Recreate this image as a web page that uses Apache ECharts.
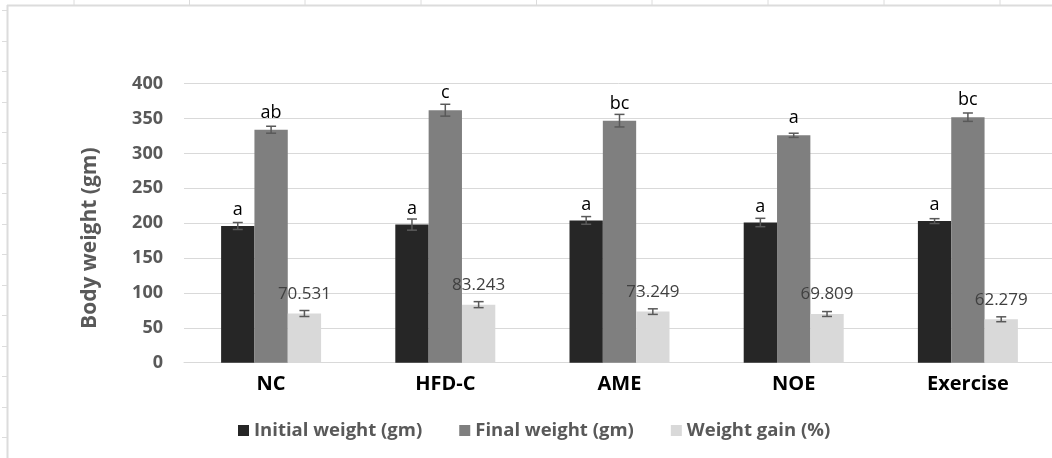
<!DOCTYPE html>
<html>
<head>
<meta charset="utf-8">
<script src="https://cdn.jsdelivr.net/npm/echarts@6.0.0/dist/echarts.min.js"></script>
<style>
html,body{margin:0;padding:0;background:#fff;}
#chart{width:1052px;height:458px;}
</style>
</head>
<body>
<div id="chart"></div>
<script>
var categories = ['NC', 'HFD-C', 'AME', 'NOE', 'Exercise'];
var seriesNames = ['Initial weight (gm)', 'Final weight (gm)', 'Weight gain (%)'];
var initialWeight = [196, 198, 204, 201, 203];
var finalWeight = [334, 362, 347, 326, 352];
var weightGain = [70.531, 83.243, 73.249, 69.809, 62.279];
var initialErr = [5, 8, 5.5, 6, 3.5];
var finalErr = [5, 8.5, 9, 3, 6];
var gainErr = [4.3, 4.3, 4, 3.5, 3.5];
var initialLetters = ['a', 'a', 'a', 'a', 'a'];
var finalLetters = ['ab', 'c', 'bc', 'a', 'bc'];
var yTicks = [0, 50, 100, 150, 200, 250, 300, 350, 400];

var FONT = '"Open Sans", "Noto Sans", sans-serif';
var colors = ['#262626', '#7f7f7f', '#d9d9d9'];
var catGap = 0.426;

function errData(vals, errs) {
  return vals.map(function (v, i) { return [i, v - errs[i], v + errs[i]]; });
}
function errSeries(pos, vals, errs) {
  return {
    type: 'custom',
    silent: true,
    z: 5,
    data: errData(vals, errs),
    renderItem: function (params, api) {
      var x = api.value(0);
      var lo = api.coord([x, api.value(1)]);
      var hi = api.coord([x, api.value(2)]);
      var band = api.size([1, 0])[0];
      var barW = band * (1 - catGap) / 3;
      var cx = lo[0] + (pos - 1) * barW;
      var hw = 5;
      var st = { stroke: '#595959', lineWidth: 1.5 };
      return {
        type: 'group',
        children: [
          { type: 'line', shape: { x1: cx, y1: lo[1], x2: cx, y2: hi[1] }, style: st },
          { type: 'line', shape: { x1: cx - hw, y1: lo[1], x2: cx + hw, y2: lo[1] }, style: st },
          { type: 'line', shape: { x1: cx - hw, y1: hi[1], x2: cx + hw, y2: hi[1] }, style: st }
        ]
      };
    }
  };
}

// spreadsheet-frame decoration
var deco = [];
deco.push({ type: 'line', shape: { x1: 7, y1: 5.5, x2: 1052, y2: 5.5 }, style: { stroke: '#dcdcdc', lineWidth: 2 }, silent: true });
deco.push({ type: 'line', shape: { x1: 7.5, y1: 5, x2: 7.5, y2: 458 }, style: { stroke: '#dcdcdc', lineWidth: 2 }, silent: true });
[74, 189.5, 305, 421, 536.5, 652, 768, 884, 1000].forEach(function (x) {
  deco.push({ type: 'line', shape: { x1: x, y1: 0, x2: x, y2: 5 }, style: { stroke: '#dcdcdc', lineWidth: 1 }, silent: true });
});
for (var yy = 10; yy < 458; yy += 30.5) {
  deco.push({ type: 'line', shape: { x1: 2, y1: Math.round(yy) + 0.5, x2: 7, y2: Math.round(yy) + 0.5 }, style: { stroke: '#dcdcdc', lineWidth: 1 }, silent: true });
}

var chart = echarts.init(document.getElementById('chart'), null, { renderer: 'canvas' });
chart.setOption({
  animation: false,
  backgroundColor: '#ffffff',
  textStyle: { fontFamily: FONT },
  graphic: deco,
  grid: { left: 184, right: -3, top: 83.7, bottom: 95.3, outerBoundsMode: 'none', containLabel: false },
  legend: {
    left: 233, top: 416,
    itemWidth: 11, itemHeight: 11, itemGap: 37,
    icon: 'rect',
    data: seriesNames,
    textStyle: { color: '#595959', fontSize: 18.5, fontWeight: 'bold', fontFamily: FONT }
  },
  xAxis: {
    type: 'category',
    data: categories,
    axisLine: { show: true, lineStyle: { color: '#d9d9d9', width: 1 } },
    axisTick: { show: false },
    axisLabel: { color: '#000000', fontSize: 20, fontWeight: 'bold', fontFamily: FONT, margin: 12 }
  },
  yAxis: {
    type: 'value',
    min: yTicks[0], max: yTicks[yTicks.length - 1], interval: 50,
    name: 'Body weight (gm)',
    nameLocation: 'middle',
    nameGap: 83,
    nameTextStyle: { color: '#595959', fontSize: 21, fontWeight: 'bold', fontFamily: FONT, padding: [0, 30, 0, 0] },
    axisLine: { show: false },
    axisTick: { show: false },
    splitLine: { lineStyle: { color: '#d9d9d9', width: 1 } },
    axisLabel: { color: '#595959', fontSize: 18, fontWeight: 'bold', fontFamily: FONT, margin: 21 }
  },
  series: [
    {
      name: seriesNames[0], type: 'bar', data: initialWeight,
      barGap: '0%', barCategoryGap: (catGap * 100) + '%',
      itemStyle: { color: colors[0] },
      label: { show: true, position: 'top', distance: 7, color: '#000', fontSize: 18, fontFamily: FONT,
        formatter: function (p) { return initialLetters[p.dataIndex]; } }
    },
    {
      name: seriesNames[1], type: 'bar', data: finalWeight,
      barGap: '0%', barCategoryGap: (catGap * 100) + '%',
      itemStyle: { color: colors[1] },
      label: { show: true, position: 'top', distance: 8, color: '#000', fontSize: 18, fontFamily: FONT,
        formatter: function (p) { return finalLetters[p.dataIndex]; } }
    },
    {
      name: seriesNames[2], type: 'bar', data: weightGain,
      barGap: '0%', barCategoryGap: (catGap * 100) + '%',
      itemStyle: { color: colors[2] },
      label: { show: true, position: 'top', distance: 11, color: '#404040', fontSize: 17, fontFamily: FONT,
        formatter: function (p) { return weightGain[p.dataIndex].toFixed(3); } }
    },
    errSeries(0, initialWeight, initialErr),
    errSeries(1, finalWeight, finalErr),
    errSeries(2, weightGain, gainErr)
  ]
});
</script>
</body>
</html>
